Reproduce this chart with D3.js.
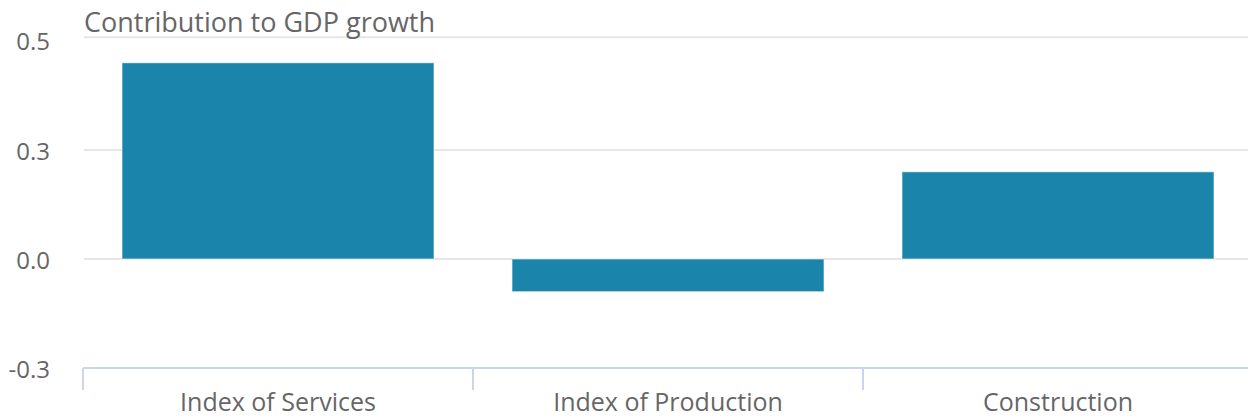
<!DOCTYPE html>
<html>
<head>
<meta charset="utf-8">
<title>Contribution to GDP growth</title>
<script src="https://d3js.org/d3.v7.min.js"></script>
<style>
body{margin:0;background:#fff;}
.chart text{font-family:"Open Sans",sans-serif;fill:#666;}
</style>
</head>
<body>
<svg class="chart"></svg>
<script>
var categories=["Index of Services","Index of Production","Construction"];
var values=[0.54,-0.09,0.24];
var tickValues=[-0.3,0,0.3,0.61];
var tickLabels=["-0.3","0.0","0.3","0.5"];

var width=1248,height=416;
var left=83,right=1253,zeroY=259,bottomY=368;

var chart=d3.select(".chart").attr("width",width).attr("height",height);

var y=d3.scaleLinear().domain([-0.3,0]).range([bottomY,zeroY]);
var x=d3.scaleBand().domain(categories).range([left,right]).paddingInner(0.2).paddingOuter(0.1);
var xTicks=d3.scaleBand().domain(categories).range([left,right]);

// gridlines
chart.append("g").selectAll("line").data(tickValues.slice(1)).enter()
	.append("line")
	.attr("x1",left+1).attr("x2",width)
	.attr("y1",function(d){return y(d);}).attr("y2",function(d){return y(d);})
	.attr("stroke","#e6e6e6").attr("stroke-width",2);

// y labels
chart.append("g").selectAll("text").data(tickValues).enter()
	.append("text")
	.attr("x",50)
	.attr("y",function(d,i){return y(d)+(i==3?13:10);})
	.attr("text-anchor","end")
	.attr("font-size","24px")
	.text(function(d,i){return tickLabels[i];});

// bars
chart.append("g").selectAll("rect").data(values).enter()
	.append("rect")
	.attr("x",function(d,i){return x(categories[i]);})
	.attr("width",x.bandwidth())
	.attr("y",function(d){return y(Math.max(0,d));})
	.attr("height",function(d){return Math.abs(y(d)-y(0));})
	.attr("fill","#1b84ab")
	.attr("stroke","rgba(255,255,255,0.6)")
	.attr("stroke-width",1);

// x axis
var axisG=chart.append("g");
axisG.append("line")
	.attr("x1",left).attr("x2",width)
	.attr("y1",bottomY).attr("y2",bottomY)
	.attr("stroke","#ccd6eb").attr("stroke-width",2);
axisG.selectAll("line.tick").data(categories).enter()
	.append("line").attr("class","tick")
	.attr("x1",function(d){return xTicks(d);}).attr("x2",function(d){return xTicks(d);})
	.attr("y1",bottomY).attr("y2",bottomY+22)
	.attr("stroke","#ccd6eb").attr("stroke-width",2);
axisG.selectAll("text").data(categories).enter()
	.append("text")
	.attr("x",function(d){return xTicks(d)+xTicks.bandwidth()/2;})
	.attr("y",411)
	.attr("text-anchor","middle")
	.attr("font-size","25px")
	.text(function(d){return d;});

// title
chart.append("text")
	.attr("x",84).attr("y",32)
	.attr("font-size","27px")
	.text("Contribution to GDP growth");
</script>
</body>
</html>
